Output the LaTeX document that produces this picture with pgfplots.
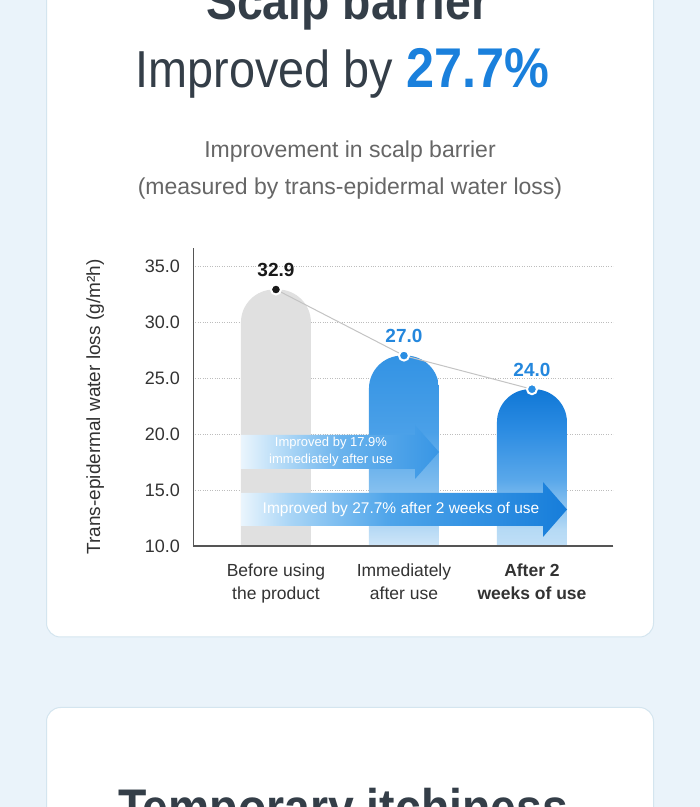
\documentclass[border=0pt]{standalone}
\usepackage{pgfplots}
\pgfplotsset{compat=1.18}
\usepackage{pgfplotstable}
\usepackage{fontspec}
\setmainfont{Liberation Sans}
\newfontfamily\headfont{Liberation Sans}[FakeStretch=0.9]

\definecolor{pagebg}{HTML}{EAF3FA}
\definecolor{cardline}{HTML}{D4E5EF}
\definecolor{headink}{HTML}{343E48}
\definecolor{accent}{HTML}{1A80DC}
\definecolor{subink}{HTML}{666666}
\definecolor{ink}{HTML}{333333}
\definecolor{axisink}{HTML}{555555}
\definecolor{gridink}{HTML}{BDBDBD}
\definecolor{bargrey}{HTML}{E0E0E0}
\definecolor{joinline}{HTML}{C4C4C4}
\definecolor{dotblue}{HTML}{2A8EE3}
\definecolor{valblue}{HTML}{2487DD}
% fades of the two blue bars, bottom to top
\definecolor{midA0}{HTML}{CFE6F8}
\definecolor{midA1}{HTML}{8CC4F0}
\definecolor{midA2}{HTML}{4AA0E8}
\definecolor{midA3}{HTML}{3393E4}
\definecolor{endB0}{HTML}{C0DFF7}
\definecolor{endB1}{HTML}{B6DAF5}
\definecolor{endB2}{HTML}{5AA8EA}
\definecolor{endB3}{HTML}{2C8CE2}
\definecolor{endB4}{HTML}{1077D6}
% fades of the two arrows, left to right
\definecolor{arr0}{HTML}{EAF5FD}
\definecolor{arrA1}{HTML}{B5DBF7}
\definecolor{arrA2}{HTML}{6AB3ED}
\definecolor{arrA3}{HTML}{3896E5}
\definecolor{arrB1}{HTML}{A9D5F6}
\definecolor{arrB2}{HTML}{4FA5EA}
\definecolor{arrB3}{HTML}{167DDA}

% the lowest part of each bar is clipped below the floor,
% so each fade starts a little way up its shading
\pgfdeclareverticalshading{barmid}{100bp}{%
  color(0bp)=(midA0); color(32.9bp)=(midA0); color(43.4bp)=(midA1);
  color(58.2bp)=(midA2); color(75bp)=(midA3); color(100bp)=(midA3)}
\pgfdeclareverticalshading{barend}{100bp}{%
  color(0bp)=(endB0); color(34.3bp)=(endB0); color(38.4bp)=(endB1);
  color(51.4bp)=(endB2); color(64.4bp)=(endB3); color(75bp)=(endB4);
  color(100bp)=(endB4)}
\pgfdeclarehorizontalshading{arrowA}{100bp}{%
  color(0bp)=(arr0); color(25bp)=(arr0); color(35bp)=(arrA1);
  color(50bp)=(arrA2); color(75bp)=(arrA3); color(100bp)=(arrA3)}
\pgfdeclarehorizontalshading{arrowB}{100bp}{%
  color(0bp)=(arr0); color(25bp)=(arr0); color(32.5bp)=(arrB1);
  color(47.5bp)=(arrB2); color(75bp)=(arrB3); color(100bp)=(arrB3)}

% trans-epidermal water loss, g/m^2h
\pgfplotstableread{
step tewl
0    32.9
1    27.0
2    24.0
}\tewl

\begin{document}
\begin{tikzpicture}[x=1pt,y=1pt]
\useasboundingbox (0,0) rectangle (700,807);
\clip (0,0) rectangle (700,807);
\fill[pagebg] (0,0) rectangle (700,807);
% cards
\filldraw[fill=white, draw=cardline, line width=1pt, rounded corners=14pt]
  (46.5,170) rectangle (653.5,840);
\filldraw[fill=white, draw=cardline, line width=1pt, rounded corners=14pt]
  (46.5,-40) rectangle (653.5,99.5);

% headings
\node[anchor=base, text=headink, font=\headfont\bfseries\fontsize{51.5}{51.5}\selectfont]
  at (348,787) {Scalp barrier};
\node[anchor=base, text=headink, inner sep=0pt]
  at (342.5,719) {\headfont\fontsize{52}{52}\selectfont Improved by
  \textcolor{accent}{\bfseries\fontsize{56}{56}\selectfont 27.7\%}};
\node[anchor=base, text=subink, font=\fontsize{23}{23}\selectfont]
  at (350,649) {Improvement in scalp barrier};
\node[anchor=base, text=subink, font=\fontsize{23}{23}\selectfont]
  at (350,612) {(measured by trans-epidermal water loss)};

\begin{axis}[
  at={(193pt,225.16pt)}, anchor=south west,
  scale only axis, width=420pt, height=333.76pt,
  xmin=-0.648, xmax=2.633, ymin=6.8, ymax=36.6,
  clip=false,
  axis line style={draw=none},
  xtick pos=bottom, ytick pos=left,
  ytick={10,15,20,25,30,35},
  xtick={0,1,2},
  xticklabels={{Before using\\the product},{Immediately\\after use},
    {\textbf{After 2}\\\textbf{weeks of use}}},
  major tick length=0pt,
  ymajorgrids,
  grid style={draw=gridink, dotted, line width=0.8pt},
  /pgf/number format/fixed,
  /pgf/number format/fixed zerofill,
  /pgf/number format/precision=1,
  /pgf/number format/assume math mode=true,
  yticklabel style={font=\fontsize{18}{18}\selectfont, text=ink,
    anchor=east, inner sep=0pt, xshift=-13pt},
  xticklabel style={font=\fontsize{17.5}{23}\selectfont, text=ink,
    align=center, anchor=north, inner sep=0pt, yshift=18pt},
  ylabel={Trans-epidermal water loss (g/m²h)},
  ylabel style={font=\fontsize{19}{19}\selectfont, text=ink,
    at={(axis description cs:-0.233,0.5237)}, anchor=center},
]
% bars with rounded tops, cut off at the floor of the chart
\begin{scope}
\clip (axis cs:-0.648,10) rectangle (axis cs:2.633,36.6);
\addplot[ybar, bar width=70pt, bar shift=0pt, draw=none, fill=bargrey,
  rounded corners=33pt]
  table[x=step, y=tewl, restrict x to domain=-0.5:0.5] {\tewl};
\addplot[ybar, bar width=70pt, bar shift=0pt, draw=none, shading=barmid,
  rounded corners=33pt]
  table[x=step, y=tewl, restrict x to domain=0.5:1.5] {\tewl};
\addplot[ybar, bar width=70pt, bar shift=0pt, draw=none, shading=barend,
  rounded corners=33pt]
  table[x=step, y=tewl, restrict x to domain=1.5:2.5] {\tewl};
\end{scope}
% axis lines
\draw[axisink, line width=1.6pt] (axis cs:-0.648,10) -- (axis cs:2.633,10);
\draw[axisink, line width=0.9pt] (axis cs:-0.648,10) -- (axis cs:-0.648,36.6);
% connecting line
\addplot[draw=joinline, line width=1pt, mark=none]
  table[x=step, y=tewl] {\tewl};
% points with value labels
\addplot[only marks, mark=*, mark size=5pt,
  mark options={fill=black!90, draw=white, line width=2pt},
  nodes near coords,
  every node near coord/.append style={font=\bfseries\fontsize{19}{19}\selectfont,
    text=black!90, anchor=base, yshift=13pt}]
  table[x=step, y=tewl, restrict x to domain=-0.5:0.5] {\tewl};
\addplot[only marks, mark=*, mark size=5pt,
  mark options={fill=dotblue, draw=white, line width=2pt},
  nodes near coords,
  every node near coord/.append style={font=\bfseries\fontsize{19}{19}\selectfont,
    text=valblue, anchor=base, yshift=13pt}]
  table[x=step, y=tewl, restrict x to domain=0.5:2.5] {\tewl};
\end{axis}

% improvement arrows
\path[shading=arrowA]
  (241,372) -- (415,372) -- (415,382) -- (439,355) -- (415,328)
  -- (415,338) -- (241,338) -- cycle;
\node[text=white, align=center, font=\fontsize{13}{17}\selectfont]
  at (331,355) {Improved by 17.9\%\\immediately after use};
\path[shading=arrowB]
  (241,314) -- (543,314) -- (543,325) -- (567,297.5) -- (543,270)
  -- (543,281) -- (241,281) -- cycle;
\node[text=white, font=\fontsize{15.5}{15.5}\selectfont]
  at (401,297.5) {Improved by 27.7\% after 2 weeks of use};

% next section heading
\node[anchor=base, text=headink, font=\headfont\bfseries\fontsize{51.5}{51.5}\selectfont]
  at (343,-19) {Temporary itchiness};
\end{tikzpicture}
\end{document}
